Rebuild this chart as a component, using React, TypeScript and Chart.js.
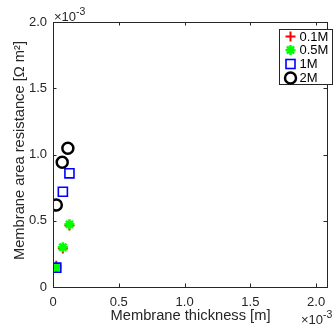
import React, { useEffect, useRef } from "react";
import { Chart, registerables } from "chart.js";

Chart.register(...registerables);

const seriesNames = ["0.1M", "0.5M", "1M", "2M"];
const thickness01 = [0.025, 0.075, 0.125];
const resistance01 = [0.16, 0.29, 0.465];
const thickness05 = [0.025, 0.075, 0.125];
const resistance05 = [0.146, 0.3, 0.473];
const thickness1 = [0.025, 0.075, 0.125];
const resistance1 = [0.146, 0.719, 0.858];
const thickness2 = [0.025, 0.07, 0.113];
const resistance2 = [0.619, 0.941, 1.047];
const xTicks = [0, 0.5, 1, 1.5, 2];
const yTicks = [0, 0.5, 1, 1.5, 2];

const FONT = "'Liberation Sans', Arial, Helvetica, sans-serif";
const TXT = "#262626";

function pts(xs: number[], ys: number[]) {
  return xs.map((x, i) => ({ x, y: ys[i] }));
}

function drawMarker(ctx: CanvasRenderingContext2D, kind: number, x: number, y: number) {
  ctx.save();
  ctx.beginPath();
  if (kind === 0) {
    ctx.strokeStyle = "#ff0000";
    ctx.lineWidth = 2;
    ctx.moveTo(x - 5, y); ctx.lineTo(x + 5, y);
    ctx.moveTo(x, y - 5); ctx.lineTo(x, y + 5);
    ctx.stroke();
  } else if (kind === 1) {
    ctx.strokeStyle = "#00ff00";
    ctx.lineWidth = 2.5;
    for (let a = 0; a < 4; a++) {
      const ang = (a * Math.PI) / 4;
      ctx.moveTo(x - 5 * Math.cos(ang), y - 5 * Math.sin(ang));
      ctx.lineTo(x + 5 * Math.cos(ang), y + 5 * Math.sin(ang));
    }
    ctx.stroke();
  } else if (kind === 2) {
    ctx.strokeStyle = "#0000ff";
    ctx.lineWidth = 1.6;
    ctx.strokeRect(x - 4.5, y - 4.5, 9, 9);
  } else {
    ctx.strokeStyle = "#000000";
    ctx.lineWidth = 2.5;
    ctx.arc(x, y, 5.5, 0, Math.PI * 2);
    ctx.stroke();
  }
  ctx.restore();
}

const decorPlugin = {
  id: "decor",
  afterDraw(chart: any) {
    const ctx: CanvasRenderingContext2D = chart.ctx;
    const { left, right, top, bottom } = chart.chartArea;
    const xs = chart.scales.x;
    const ys = chart.scales.y;
    ctx.save();
    ctx.strokeStyle = TXT;
    ctx.lineWidth = 1;
    ctx.strokeRect(Math.round(left) + 0.5, Math.round(top) + 0.5, Math.round(right - left) - 1, Math.round(bottom - top));
    const tl = 3.5;
    ctx.beginPath();
    xTicks.forEach((v) => {
      const px = Math.round(xs.getPixelForValue(v)) + 0.5;
      ctx.moveTo(px, bottom); ctx.lineTo(px, bottom - tl);
      ctx.moveTo(px, top); ctx.lineTo(px, top + tl);
    });
    yTicks.forEach((v) => {
      const py = Math.round(ys.getPixelForValue(v)) + 0.5;
      ctx.moveTo(left, py); ctx.lineTo(left + tl, py);
      ctx.moveTo(right - 1, py); ctx.lineTo(right - 1 - tl, py);
    });
    ctx.stroke();

    // Axis titles
    ctx.fillStyle = TXT;
    ctx.font = `14.7px ${FONT}`;
    ctx.textAlign = "center";
    ctx.textBaseline = "middle";
    ctx.fillText("Membrane thickness [m]", (left + right) / 2, 316);
    ctx.save();
    ctx.translate(20, (top + bottom) / 2 - 4);
    ctx.rotate(-Math.PI / 2);
    ctx.fillText("Membrane area resistance [\u03A9 m\u00B2]", 0, 0);
    ctx.restore();

    // Exponent labels
    const expo = (x: number, baseline: number) => {
      ctx.textAlign = "left";
      ctx.textBaseline = "alphabetic";
      ctx.font = `13px ${FONT}`;
      ctx.fillText("\u00D710", x, baseline);
      const w = ctx.measureText("\u00D710").width;
      ctx.font = `10.5px ${FONT}`;
      ctx.fillText("-3", x + w, baseline - 6);
    };
    expo(54, 21);
    expo(301, 324);

    // Legend
    ctx.fillStyle = "#ffffff";
    ctx.fillRect(279.5, 29.5, 53, 55);
    ctx.strokeStyle = TXT;
    ctx.lineWidth = 1;
    ctx.strokeRect(279.5, 29.5, 53, 55);
    const rows = [36.5, 50, 64, 78];
    ctx.font = `13px ${FONT}`;
    ctx.textAlign = "left";
    ctx.textBaseline = "middle";
    seriesNames.forEach((name, i) => {
      drawMarker(ctx, i, 290.5, rows[i]);
      ctx.fillStyle = "#000000";
      ctx.fillText(name, 299.5, rows[i] + 0.5);
    });
    ctx.restore();
  },
};

export default function App() {
  const ref = useRef<HTMLCanvasElement>(null);
  useEffect(() => {
    document.body.style.margin = "0";
    const chart = new Chart(ref.current as HTMLCanvasElement, {
      type: "scatter",
      data: {
        datasets: [
          {
            label: seriesNames[0],
            data: pts(thickness01, resistance01),
            pointStyle: "cross",
            pointRadius: 5,
            borderColor: "#ff0000",
            backgroundColor: "#ff0000",
            pointBorderWidth: 2,
            order: 4,
          },
          {
            label: seriesNames[1],
            data: pts(thickness05, resistance05),
            pointStyle: "star",
            pointRadius: 5,
            borderColor: "#00ff00",
            backgroundColor: "#00ff00",
            pointBorderWidth: 2.5,
            order: 3,
          },
          {
            label: seriesNames[2],
            data: pts(thickness1, resistance1),
            pointStyle: "rect",
            pointRadius: 6.4,
            borderColor: "#0000ff",
            backgroundColor: "rgba(0,0,0,0)",
            pointBorderWidth: 1.6,
            order: 2,
          },
          {
            label: seriesNames[3],
            data: pts(thickness2, resistance2),
            pointStyle: "circle",
            pointRadius: 5.5,
            borderColor: "#000000",
            backgroundColor: "rgba(0,0,0,0)",
            pointBorderWidth: 2.5,
            order: 1,
          },
        ],
      },
      options: {
        animation: false,
        responsive: false,
        events: [],
        layout: { padding: { top: 22, right: 1, left: 0, bottom: 0 } },
        plugins: { legend: { display: false }, tooltip: { enabled: false } },
        scales: {
          x: {
            type: "linear",
            min: 0,
            max: 2.09,
            afterFit: (s: any) => { s.height = 45; },
            afterBuildTicks: (s: any) => { s.ticks = xTicks.map((v) => ({ value: v })); },
            grid: { display: false, drawTicks: false },
            border: { display: false },
            ticks: { color: TXT, font: { family: FONT, size: 13 }, padding: 8, maxRotation: 0 },
          },
          y: {
            type: "linear",
            min: 0,
            max: 2,
            afterFit: (s: any) => { s.width = 53; },
            afterBuildTicks: (s: any) => { s.ticks = yTicks.map((v) => ({ value: v })); },
            grid: { display: false, drawTicks: false },
            border: { display: false },
            ticks: { color: TXT, font: { family: FONT, size: 13 }, padding: 6 },
          },
        },
      },
      plugins: [decorPlugin],
    } as any);
    return () => chart.destroy();
  }, []);
  return (
    <div style={{ position: "absolute", left: 0, top: 0, width: 336, height: 332, background: "#fff" }}>
      <canvas ref={ref} width={336} height={332} style={{ width: 336, height: 332 }} />
    </div>
  );
}
